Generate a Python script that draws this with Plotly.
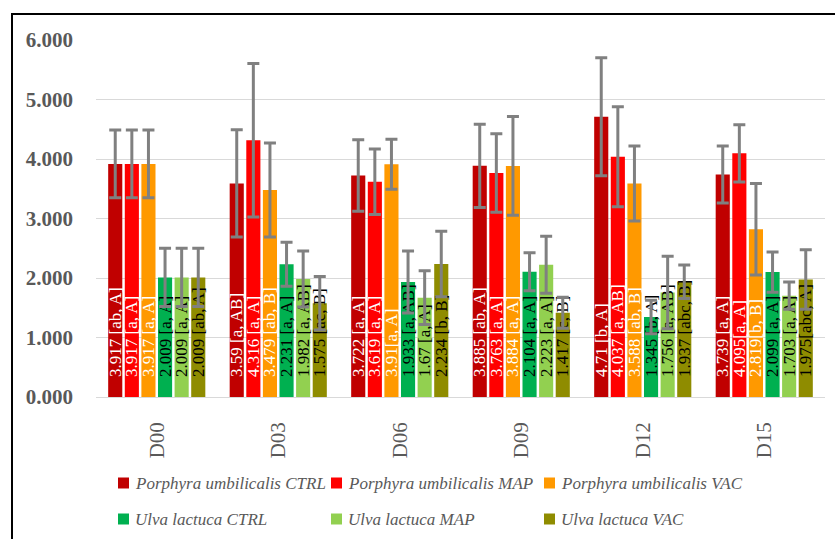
import plotly.graph_objects as go

days = ["D00", "D03", "D06", "D09", "D12", "D15"]

series_names = [
    "Porphyra umbilicalis CTRL", "Porphyra umbilicalis MAP", "Porphyra umbilicalis VAC",
    "Ulva lactuca CTRL", "Ulva lactuca MAP", "Ulva lactuca VAC",
]

p_ctrl = [3.917, 3.59, 3.722, 3.885, 4.71, 3.739]
p_map = [3.917, 4.316, 3.619, 3.763, 4.037, 4.095]
p_vac = [3.917, 3.479, 3.91, 3.884, 3.588, 2.819]
u_ctrl = [2.009, 2.231, 1.933, 2.104, 1.345, 2.099]
u_map = [2.009, 1.982, 1.67, 2.223, 1.756, 1.703]
u_vac = [2.009, 1.575, 2.234, 1.417, 1.937, 1.975]

p_ctrl_err = [0.57, 0.90, 0.60, 0.70, 0.99, 0.48]
p_map_err = [0.57, 1.29, 0.55, 0.66, 0.84, 0.48]
p_vac_err = [0.57, 0.79, 0.42, 0.83, 0.63, 0.77]
u_ctrl_err = [0.49, 0.37, 0.52, 0.32, 0.28, 0.34]
u_map_err = [0.49, 0.47, 0.45, 0.48, 0.61, 0.23]
u_vac_err = [0.49, 0.45, 0.55, 0.26, 0.28, 0.50]

p_ctrl_lbl = ["[ab, A]", "[a, AB]", "[a, A]", "[ab, A]", "[b, A]", "[a, A]"]
p_map_lbl = ["[a, A]", "[a, A]", "[a, A]", "[a, A]", "[a, AB]", "[a, A]"]
p_vac_lbl = ["[a, A]", "[ab, B]", "[a, A]", "[a, A]", "[ab, B]", "[b, B]"]
u_ctrl_lbl = ["[a, A]", "[a, A]", "[a, AB]", "[a, A]", "[b, A]", "[a, A]"]
u_map_lbl = ["[a, A]", "[a, AB]", "[a, A]", "[a, A]", "[a, AB]", "[a, A]"]
u_vac_lbl = ["[ab, A]", "[ac, B]", "[b, B]", "[c, B]", "[abc, B]", "[abc, A]"]

# label separators as in the original (some have no space)
p_map_sep = [" ", " ", " ", " ", " ", ""]
p_vac_sep = [" ", " ", "", " ", " ", ""]
u_vac_sep = [" ", " ", " ", " ", " ", ""]

colors = ["#C00000", "#FF0000", "#FF9900", "#00B050", "#92D050", "#8F8C00"]
text_colors = ["white", "white", "white", "black", "black", "black"]

values = [p_ctrl, p_map, p_vac, u_ctrl, u_map, u_vac]
errors = [p_ctrl_err, p_map_err, p_vac_err, u_ctrl_err, u_map_err, u_vac_err]
labels = [p_ctrl_lbl, p_map_lbl, p_vac_lbl, u_ctrl_lbl, u_map_lbl, u_vac_lbl]
seps = [[" "] * 6, p_map_sep, p_vac_sep, [" "] * 6, [" "] * 6, u_vac_sep]

PAD = "\u00a0" * 4  # lifts the label off the bar base, as in the original

fig = go.Figure()
for i in range(6):
    texts = [f"{PAD}{v:g}{s}{l}" for v, s, l in zip(values[i], seps[i], labels[i])]
    fig.add_trace(go.Bar(
        x=days, y=values[i], name=series_names[i],
        marker=dict(color=colors[i], line=dict(width=0)),
        error_y=dict(type="data", array=errors[i], color="#808080", thickness=3, width=6),
        text=texts, textposition="inside", insidetextanchor="start", textangle=-90,
        textfont=dict(family="Liberation Serif", size=17, color=text_colors[i]),
        showlegend=False,
    ))

# Manual legend (3 columns x 2 rows), pixel positions converted to paper coords
PLOT_L, PLOT_W, PLOT_B, PLOT_H = 96, 729, 397, 357
col_x = [118, 331, 544]
row_y = [483, 519]
SW = 11
shapes = []
annotations = []
for i, name in enumerate(series_names):
    cx = col_x[i % 3]
    cy = row_y[i // 3]
    shapes.append(dict(
        type="rect", xref="paper", yref="paper",
        x0=(cx - PLOT_L) / PLOT_W, x1=(cx + SW - PLOT_L) / PLOT_W,
        y0=(PLOT_B - (cy + SW / 2)) / PLOT_H, y1=(PLOT_B - (cy - SW / 2)) / PLOT_H,
        fillcolor=colors[i], line=dict(width=0),
    ))
    annotations.append(dict(
        xref="paper", yref="paper", x=(cx + SW + 4 - PLOT_L) / PLOT_W,
        y=(PLOT_B - cy) / PLOT_H, xanchor="left", yanchor="middle",
        text=name, showarrow=False,
        font=dict(family="Liberation Serif", size=17, color="#595959", style="italic"),
    ))

shapes.append(dict(
    type="rect", xref="paper", yref="paper",
    x0=(12 - PLOT_L) / PLOT_W, x1=1.5, y0=-2, y1=1 + (40 - 14) / PLOT_H,
    line=dict(color="black", width=2), fillcolor="rgba(0,0,0,0)", layer="above",
))

fig.update_layout(
    width=835, height=539,
    margin=dict(l=96, r=10, t=40, b=142),
    paper_bgcolor="white", plot_bgcolor="white",
    barmode="group", bargap=0.18, bargroupgap=0.15,
    uniformtext=dict(minsize=17, mode="show"),
    showlegend=False,
    xaxis=dict(
        tickangle=-90, showgrid=False, showline=False, ticks="",
        tickfont=dict(family="Liberation Serif", size=21, color="#595959"),
        ticklabelstandoff=20,
    ),
    yaxis=dict(
        range=[0, 6], tickvals=[0, 1, 2, 3, 4, 5, 6], tickformat=".3f",
        showgrid=True, gridcolor="#D9D9D9", gridwidth=1,
        zeroline=True, zerolinecolor="#D9D9D9", zerolinewidth=1,
        showline=False, ticks="",
        tickfont=dict(family="Liberation Serif", size=21, color="#595959", weight="bold"),
        ticklabelstandoff=22,
    ),
    shapes=shapes,
    annotations=annotations,
)

fig.write_html("out.html")
